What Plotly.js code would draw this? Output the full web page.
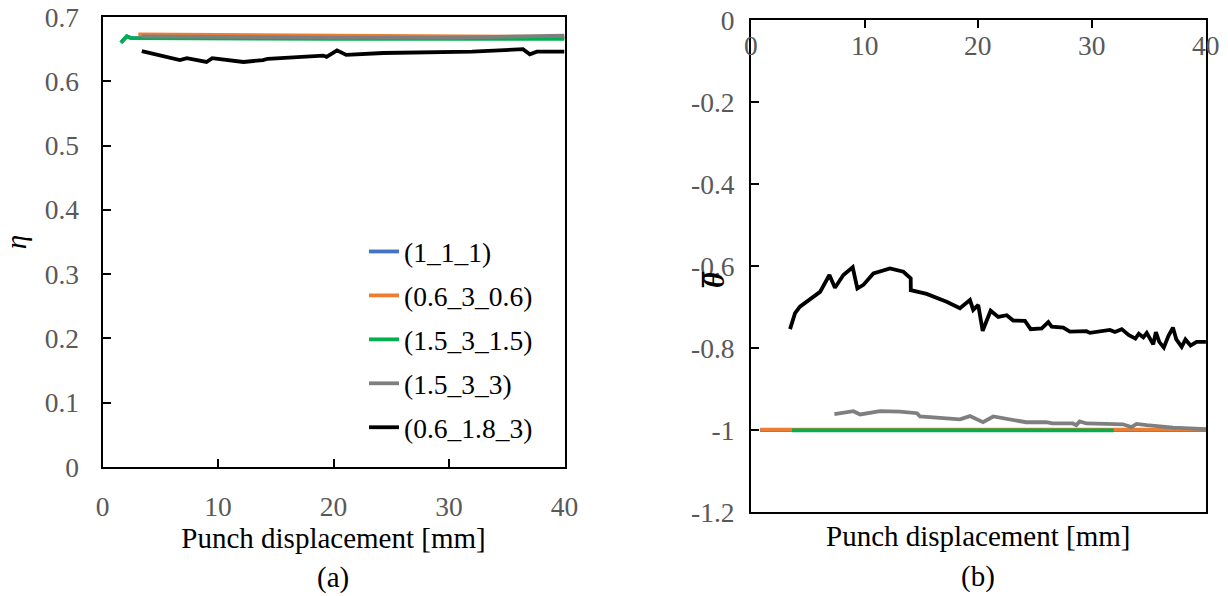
<!DOCTYPE html>
<html>
<head>
<meta charset="utf-8">
<script src="https://cdn.plot.ly/plotly-3.0.1.min.js"></script>
<style>html,body{margin:0;padding:0;background:#fff;}#chart{width:1228px;height:596px;}</style>
</head>
<body>
<div id="chart"></div>
<script>
// ---- Series names and colours ----
const seriesNames = ["(1_1_1)", "(0.6_3_0.6)", "(1.5_3_1.5)", "(1.5_3_3)", "(0.6_1.8_3)"];
const seriesColors = ["#4472C4", "#ED7D31", "#00B050", "#7F7F7F", "#000000"];

// ---- (a) stress triaxiality eta vs punch displacement ----
const etaX_111 = [1.6, 2.1, 2.5, 10, 20, 30, 40];
const etaY_111 = [0.660, 0.670, 0.667, 0.667, 0.667, 0.667, 0.667];
const etaX_0630 = [3.1, 10, 20, 30, 40];
const etaY_0630 = [0.673, 0.672, 0.671, 0.670, 0.669];
const etaX_15315 = [1.58, 2.1, 2.5, 10, 20, 31.8, 40];
const etaY_15315 = [0.660, 0.670, 0.667, 0.666, 0.666, 0.666, 0.666];
const etaX_1533 = [3.4, 10, 20, 30, 35, 40];
const etaY_1533 = [0.670, 0.669, 0.668, 0.668, 0.669, 0.671];
const etaX_06183 = [3.4, 6.7, 7.3, 9.0, 9.5, 12.2, 13.9, 14.3, 19.1, 19.4, 20.3, 21.1, 24.3, 28, 32, 36.4, 37.0, 37.6, 40];
const etaY_06183 = [0.647, 0.633, 0.636, 0.630, 0.636, 0.630, 0.633, 0.635, 0.640, 0.638, 0.648, 0.641, 0.644, 0.645, 0.646, 0.650, 0.642, 0.646, 0.646];

// ---- (b) Lode angle parameter vs punch displacement ----
const thX_111 = [0.8, 10, 20, 30, 40];
const thY_111 = [-1.0, -1.0, -1.0, -1.0, -1.0];
const thX_0630 = [0.8, 10, 20, 30, 40];
const thY_0630 = [-0.999, -0.999, -0.999, -0.999, -0.999];
const thX_15315 = [3.6, 10, 20, 31.9];
const thY_15315 = [-1.001, -1.001, -1.001, -1.001];
const thX_1533 = [7.33, 9.0, 9.6, 11.34, 13.1, 14.6, 14.86, 16.6, 18.37, 19.25, 20.4, 21.3, 22.2, 23.06, 24.2, 25.96, 26.5, 28.3, 28.6, 28.9, 29.5, 31.2, 32.7, 33.45, 33.9, 34.8, 37.1, 40];
const thY_1533 = [-0.961, -0.954, -0.962, -0.954, -0.955, -0.959, -0.967, -0.970, -0.974, -0.966, -0.981, -0.967, -0.972, -0.976, -0.981, -0.981, -0.984, -0.984, -0.988, -0.979, -0.984, -0.985, -0.986, -0.993, -0.985, -0.988, -0.994, -0.998];
const thX_06183 = [3.43, 3.87, 4.3, 6.07, 6.89, 7.38, 8.12, 8.94, 9.35, 9.88, 10.76, 12.22, 13.4, 14.04, 14.05, 15.44, 17.2, 18.37, 19.25, 19.54, 19.98, 20.37, 21.07, 21.74, 22.48, 23.06, 24.09, 24.59, 25.56, 26.14, 26.44, 27.46, 28.04, 29.5, 29.8, 31.56, 32.0, 32.6, 33.2, 33.8, 34.1, 34.5, 34.8, 35.37, 35.6, 35.9, 36.3, 36.7, 37.1, 37.4, 37.87, 38.2, 38.65, 39.18, 40];
const thY_06183 = [-0.754, -0.715, -0.699, -0.663, -0.622, -0.653, -0.622, -0.603, -0.655, -0.646, -0.618, -0.606, -0.614, -0.630, -0.659, -0.668, -0.687, -0.703, -0.683, -0.707, -0.695, -0.758, -0.709, -0.724, -0.720, -0.733, -0.734, -0.754, -0.752, -0.737, -0.748, -0.750, -0.760, -0.759, -0.763, -0.756, -0.761, -0.754, -0.768, -0.777, -0.765, -0.774, -0.763, -0.791, -0.761, -0.785, -0.799, -0.771, -0.750, -0.779, -0.797, -0.779, -0.794, -0.785, -0.785];

// ---- Tick labels ----
const xTicks = [0, 10, 20, 30, 40];
const etaTicks = [0, 0.1, 0.2, 0.3, 0.4, 0.5, 0.6, 0.7];
const thTickVals = [0, -0.2, -0.4, -0.6, -0.8, -1.0, -1.2];
const thTickText = ["0", "-0.2", "-0.4", "-0.6", "-0.8", "-1", "-1.2"];

const etaXs = [etaX_111, etaX_0630, etaX_15315, etaX_1533, etaX_06183];
const etaYs = [etaY_111, etaY_0630, etaY_15315, etaY_1533, etaY_06183];
const thXs = [thX_111, thX_0630, thX_15315, thX_1533, thX_06183];
const thYs = [thY_111, thY_0630, thY_15315, thY_1533, thY_06183];

const SERIF = "Liberation Serif";
const traces = [];
for (let i = 0; i < seriesNames.length; i++) {
  traces.push({
    type: "scatter", mode: "lines", name: seriesNames[i],
    x: etaXs[i], y: etaYs[i], xaxis: "x", yaxis: "y",
    line: {color: seriesColors[i], width: 3.8},
    legendgroup: "g" + i, showlegend: true, hoverinfo: "skip"
  });
}
for (let i = 0; i < seriesNames.length; i++) {
  traces.push({
    type: "scatter", mode: "lines", name: seriesNames[i],
    x: thXs[i], y: thYs[i], xaxis: "x2", yaxis: "y2",
    line: {color: seriesColors[i], width: 3.8},
    legendgroup: "g" + i, showlegend: false, hoverinfo: "skip"
  });
}

function tf() { return {family: SERIF, size: 27.5, color: "#595959"}; }
function ttf() { return {family: SERIF, size: 29, color: "#000000"}; }

// Tick labels of panel (b)'s x axis sit just under its top axis line (the axis crosses at y = 0)
const topTickLabels = xTicks.map(v => ({
  xref: "x2", yref: "paper", x: v, y: 1 - 45 / 596, text: String(v),
  showarrow: false, font: tf(), xanchor: "center", yanchor: "middle"
}));

const layout = {
  width: 1228, height: 596, autosize: false,
  margin: {l: 0, r: 0, t: 0, b: 0},
  font: {family: SERIF, size: 26, color: "#000000"},
  paper_bgcolor: "#fff", plot_bgcolor: "#fff",
  showlegend: true,
  legend: {
    x: 0.2964, y: 0.619, xanchor: "left", yanchor: "top",
    font: {family: SERIF, size: 27.5, color: "#000000"},
    bgcolor: "rgba(0,0,0,0)", tracegroupgap: 5.2, itemwidth: 30
  },
  xaxis: {
    domain: [0.0835, 0.4597], anchor: "y", range: [0, 40],
    tickmode: "array", tickvals: xTicks, ticks: "inside", ticklen: 8, tickwidth: 2, tickcolor: "#000",
    showline: true, linecolor: "#000", linewidth: 2, mirror: true,
    showgrid: false, zeroline: false, tickfont: tf(), ticklabelstandoff: 14,
    title: {text: "Punch displacement [mm]", font: ttf(), standoff: 2}
  },
  yaxis: {
    domain: [0.2164, 0.9715], anchor: "x", range: [0, 0.7],
    tickmode: "array", tickvals: etaTicks, ticks: "inside", ticklen: 8, tickwidth: 2, tickcolor: "#000",
    showline: true, linecolor: "#000", linewidth: 2, mirror: true,
    showgrid: false, zeroline: false, tickfont: tf(), ticklabelstandoff: 16,
    title: {text: "<i>η</i>", font: ttf(), standoff: 16}
  },
  xaxis2: {
    domain: [0.6116, 0.982], anchor: "y2", range: [0, 40], side: "top",
    tickmode: "array", tickvals: xTicks, ticks: "inside", ticklen: 8, tickwidth: 2, tickcolor: "#000",
    showticklabels: false,
    showline: true, linecolor: "#000", linewidth: 2, mirror: true,
    showgrid: false, zeroline: false
  },
  yaxis2: {
    domain: [0.1409, 0.9664], anchor: "x2", range: [-1.2, 0],
    tickmode: "array", tickvals: thTickVals, ticktext: thTickText,
    ticks: "inside", ticklen: 8, tickwidth: 2, tickcolor: "#000",
    showline: true, linecolor: "#000", linewidth: 2, mirror: true,
    showgrid: false, zeroline: false, tickfont: tf(), ticklabelstandoff: 9
  },
  annotations: topTickLabels.concat([
    {xref: "paper", yref: "paper", x: 978 / 1228, y: 1 - 536 / 596, text: "Punch displacement [mm]",
     showarrow: false, font: ttf(), xanchor: "center", yanchor: "middle"},
    {xref: "paper", yref: "paper", x: 333 / 1228, y: 1 - 577 / 596, text: "(a)",
     showarrow: false, font: ttf(), xanchor: "center", yanchor: "middle"},
    {xref: "paper", yref: "paper", x: 978 / 1228, y: 1 - 576 / 596, text: "(b)",
     showarrow: false, font: ttf(), xanchor: "center", yanchor: "middle"},
    {xref: "paper", yref: "paper", x: 713 / 1228, y: 1 - 280 / 596, text: "<b><i>θ</i></b>",
     showarrow: false, font: {family: SERIF, size: 30, color: "#000000"}, textangle: -90,
     xanchor: "center", yanchor: "middle"},
    {xref: "paper", yref: "paper", x: 713 / 1228, y: 1 - 280 / 596, text: "<b>\u00AF</b>",
     showarrow: false, font: {family: SERIF, size: 30, color: "#000000"}, textangle: -90,
     xanchor: "center", yanchor: "middle"}
  ])
};

Plotly.newPlot("chart", traces, layout, {staticPlot: true, displayModeBar: false});
</script>
</body>
</html>
